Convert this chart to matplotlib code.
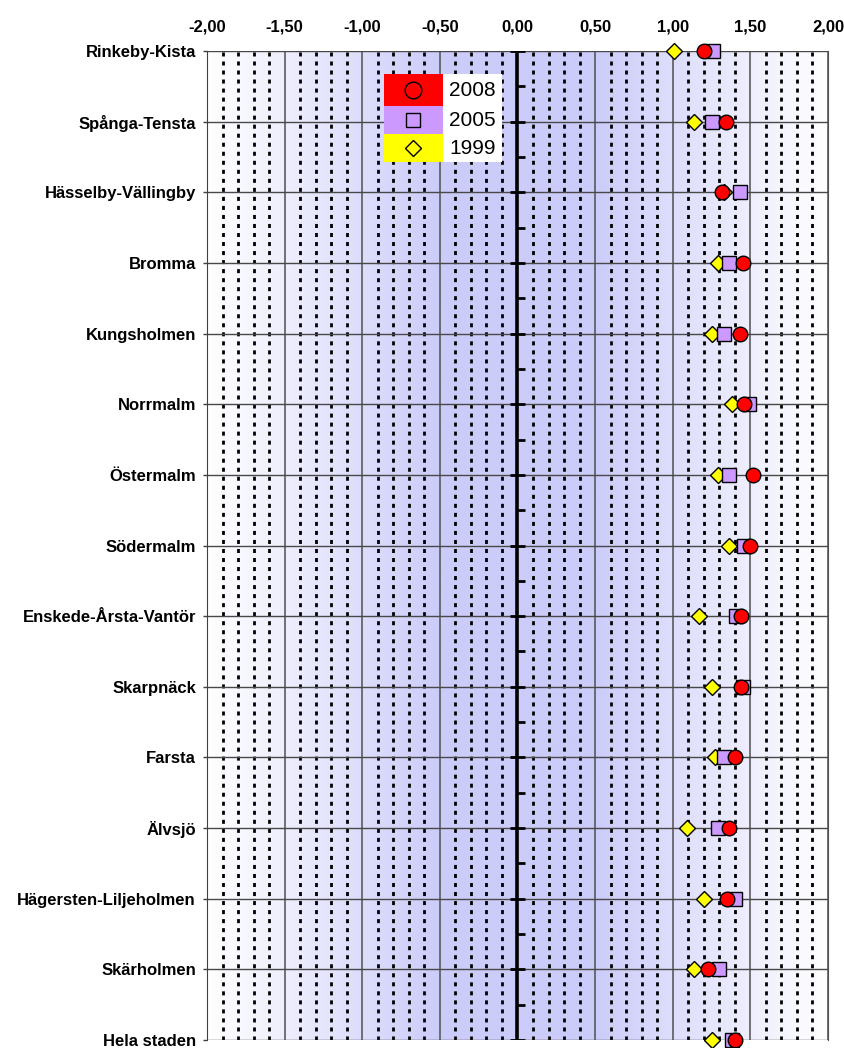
import matplotlib.pyplot as plt
import numpy as np
from matplotlib.colors import LinearSegmentedColormap
from matplotlib.patches import Rectangle
from matplotlib.lines import Line2D

plt.rcParams["font.family"] = ["Liberation Sans", "DejaVu Sans"]

districts = [
    "Rinkeby-Kista", "Spånga-Tensta", "Hässelby-Vällingby", "Bromma",
    "Kungsholmen", "Norrmalm", "Östermalm", "Södermalm",
    "Enskede-Årsta-Vantör", "Skarpnäck", "Farsta", "Älvsjö",
    "Hägersten-Liljeholmen", "Skärholmen", "Hela staden",
]
val_1999 = [1.01, 1.14, 1.33, 1.29, 1.25, 1.38, 1.29, 1.36, 1.17, 1.25, 1.27, 1.09, 1.20, 1.14, 1.25]
val_2005 = [1.26, 1.25, 1.43, 1.36, 1.33, 1.49, 1.36, 1.46, 1.41, 1.45, 1.33, 1.29, 1.40, 1.30, 1.38]
val_2008 = [1.20, 1.34, 1.32, 1.45, 1.43, 1.46, 1.52, 1.50, 1.44, 1.44, 1.40, 1.36, 1.35, 1.23, 1.40]
xticks = [-2.0, -1.5, -1.0, -0.5, 0.0, 0.5, 1.0, 1.5, 2.0]

W, H = 845, 1048
fig = plt.figure(figsize=(W / 100, H / 100), dpi=100)
ax = fig.add_axes([207 / W, 1 - 1040 / H, (828 - 207) / W, (1040 - 51) / H])

ypos = np.arange(len(districts))
ax.set_xlim(-2, 2)
ax.set_ylim(len(districts) - 1, 0)

# background: pale at the edges, lavender in the middle
xs = np.linspace(-2, 2, 801)
t = np.clip((2 - np.abs(xs)) / 1.5, 0, 1)
cmap = LinearSegmentedColormap.from_list("bg", ["#ffffff", "#ccccfa"])
ax.imshow(t[None, :], extent=(-2, 2, len(districts) - 1, 0), aspect="auto",
          cmap=cmap, vmin=0, vmax=1, zorder=0)

# dotted minor grid every 0.1, solid every 0.5
for x in np.round(np.arange(-1.9, 2.0, 0.1), 2):
    if abs(x * 2 - round(x * 2)) > 1e-6:
        ax.axvline(x, color="black", lw=2.0, linestyle=(0, (1.45, 1.8)), zorder=1)
for x in xticks:
    if x != 0:
        ax.axvline(x, color="#505050", lw=1.1, zorder=1.5)
for y in ypos:
    ax.axhline(y, color="#484848", lw=1.0, zorder=1.5)

# zero axis with its tick marks
ax.axvline(0, color="black", lw=2.6, zorder=2)
ax.hlines(ypos, -0.05, 0.05, color="black", lw=2.0, zorder=2)
ax.hlines(ypos[:-1] + 0.5, 0, 0.05, color="black", lw=2.0, zorder=2)

ax.plot(val_1999, ypos, linestyle="none", marker="D", ms=8.5, mfc="#ffff00",
        mec="black", mew=1.0, zorder=3, clip_on=False)
ax.plot(val_2005, ypos, linestyle="none", marker="s", ms=10.5, mfc="#cc99ff",
        mec="black", mew=1.0, zorder=4, clip_on=False)
ax.plot(val_2008, ypos, linestyle="none", marker="o", ms=10.5, mfc="#ff0000",
        mec="black", mew=1.0, zorder=5, clip_on=False)

ax.xaxis.tick_top()
ax.set_xticks(xticks)
ax.set_xticklabels([f"{v:.2f}".replace(".", ",") for v in xticks],
                   fontsize=12, fontweight="bold")
ax.tick_params(axis="x", length=0, pad=12)
ax.set_yticks(ypos)
ax.set_yticklabels(districts, fontsize=12, fontweight="bold")
ax.tick_params(axis="y", length=3, width=1, pad=5, color="#404040")
for side in ["top", "bottom"]:
    ax.spines[side].set_visible(False)
ax.spines["left"].set_color("#404040")
ax.spines["right"].set_color("#505050")

# legend drawn like the original: coloured key blocks plus a white label column
def px(x, y):
    return x / W, 1 - y / H

legend_rows = [("2008", "#ff0000", "o", 12), ("2005", "#cc99ff", "s", 10), ("1999", "#ffff00", "D", 8.5)]
row_edges = [74, 106, 134, 162]
x0, x1, x2 = 384, 443, 502
fig.patches.append(Rectangle(px(x1, row_edges[-1]), (x2 - x1) / W, (row_edges[-1] - row_edges[0]) / H,
                             transform=fig.transFigure, facecolor="white", edgecolor="none", zorder=10))
for i, (label, color, marker, size) in enumerate(legend_rows):
    top, bot = row_edges[i], row_edges[i + 1]
    fig.patches.append(Rectangle(px(x0, bot), (x1 - x0) / W, (bot - top) / H,
                                 transform=fig.transFigure, facecolor=color, edgecolor="none", zorder=10))
    cx, cy = px((x0 + x1) / 2, (top + bot) / 2)
    fig.lines.append(Line2D([cx], [cy], transform=fig.transFigure, marker=marker, ms=size,
                            mfc="none", mec="black", mew=1.0, linestyle="none", zorder=11))
    tx, ty = px((x1 + x2) / 2, (top + bot) / 2)
    fig.text(tx, ty, label, fontsize=15, ha="center", va="center", zorder=12)

fig.savefig("out.png", dpi=100)
